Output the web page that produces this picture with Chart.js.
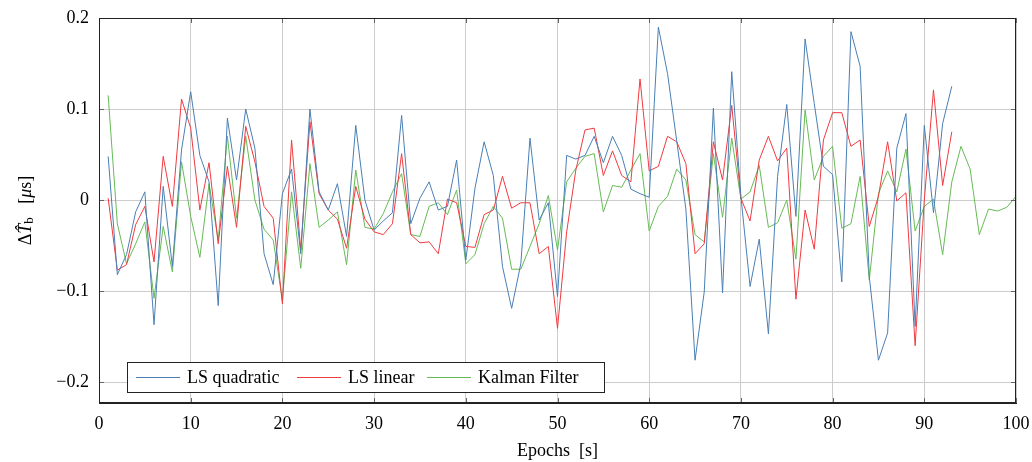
<!DOCTYPE html>
<html>
<head>
<meta charset="utf-8">
<script src="https://cdn.jsdelivr.net/npm/chart.js@4/dist/chart.umd.min.js"></script>
<style>
  html, body { margin: 0; padding: 0; background: #fff; }
  #wrap { width: 1032px; height: 462px; }
</style>
</head>
<body>
<div id="wrap"><canvas id="chart"></canvas></div>
<script>
// epochs 1..100 (x axis categories)
const epochs = Array.from({ length: 100 }, (_, i) => i + 1);

const yTicks = [-0.2, -0.1, 0, 0.1, 0.2];

const seriesNames = ['LS quadratic', 'LS linear', 'Kalman Filter'];
const seriesColors = ['#4a7fb5', '#f03a40', '#66bb55'];

// LS quadratic, epochs 1..93
const lsQuadratic = [
  0.048, -0.082, -0.060, -0.013, 0.009, -0.137, 0.015, -0.073, 0.055, 0.119,
  0.049, 0.020, -0.116, 0.090, 0.022, 0.100, 0.057, -0.059, -0.093, 0.007,
  0.034, -0.059, 0.100, 0.009, -0.011, 0.018, -0.040, 0.082, 0.000, -0.033,
  -0.023, -0.014, 0.093, -0.026, 0.002, 0.020, -0.011, -0.007, 0.044, -0.066,
  0.013, 0.064, 0.027, -0.073, -0.119, -0.070, 0.068, -0.022, -0.003, -0.106,
  0.049, 0.045, 0.049, 0.070, 0.041, 0.070, 0.049, 0.012, 0.007, 0.003,
  0.190, 0.139, 0.065, -0.010, -0.176, -0.101, 0.101, -0.102, 0.141, 0.004,
  -0.095, -0.043, -0.147, 0.026, 0.105, -0.018, 0.177, 0.106, 0.037, 0.028,
  -0.090, 0.185, 0.147, -0.084, -0.176, -0.146, 0.057, 0.095, -0.139, 0.082,
  -0.014, 0.084, 0.125
];

// LS linear, epochs 1..93
const lsLinear = [
  0.002, -0.077, -0.071, -0.027, -0.007, -0.068, 0.048, -0.007, 0.111, 0.079,
  -0.011, 0.041, -0.048, 0.037, -0.030, 0.081, 0.042, -0.007, -0.020, -0.114,
  0.066, -0.055, 0.086, 0.007, -0.011, -0.021, -0.053, 0.015, -0.021, -0.035,
  -0.038, -0.026, 0.051, -0.038, -0.047, -0.046, -0.059, 0.001, -0.003, -0.051,
  -0.052, -0.016, -0.011, 0.026, -0.009, -0.003, -0.003, -0.059, -0.051, -0.141,
  -0.035, 0.033, 0.077, 0.079, 0.027, 0.054, 0.027, 0.020, 0.133, 0.032,
  0.037, 0.070, 0.064, 0.040, -0.059, -0.048, 0.064, 0.022, 0.104, 0.002,
  -0.023, 0.044, 0.070, 0.043, 0.057, -0.109, -0.011, -0.054, 0.066, 0.096,
  0.096, 0.059, 0.066, -0.029, 0.004, 0.064, -0.001, 0.008, -0.160, 0.000,
  0.121, 0.016, 0.075
];

// Kalman Filter, epochs 1..100
const kalman = [
  0.115, -0.026, -0.070, -0.048, -0.024, -0.108, -0.029, -0.079, 0.042, -0.018,
  -0.063, 0.018, -0.044, 0.070, -0.020, 0.070, 0.000, -0.032, -0.044, -0.110,
  0.009, -0.075, 0.040, -0.030, -0.022, -0.013, -0.071, 0.033, -0.030, -0.032,
  -0.015, 0.009, 0.029, -0.038, -0.040, -0.007, -0.003, -0.016, 0.011, -0.070,
  -0.060, -0.026, -0.007, -0.020, -0.076, -0.076, -0.051, -0.026, 0.005, -0.055,
  0.020, 0.035, 0.048, 0.051, -0.013, 0.016, 0.014, 0.033, 0.051, -0.034,
  -0.007, 0.004, 0.034, 0.022, -0.038, -0.046, 0.051, -0.019, 0.068, 0.001,
  0.009, 0.038, -0.030, -0.025, 0.000, -0.065, 0.099, 0.022, 0.048, 0.059,
  -0.031, -0.026, 0.026, -0.088, 0.007, 0.032, 0.009, 0.056, -0.034, -0.007,
  0.001, -0.060, 0.020, 0.059, 0.034, -0.038, -0.010, -0.012, -0.008, 0.004
];

const FONT = '"Liberation Serif", "DejaVu Serif", serif';

function toPoints(values) {
  return values.map((v, i) => ({ x: epochs[i], y: v }));
}

function fmtTick(v) {
  if (Math.abs(v) < 1e-9) return '0';
  const s = Math.abs(v).toFixed(1);
  return v < 0 ? '\u2212' + s : s;
}

// frame around the plot and small inward tick marks
const frame = {
  id: 'frame',
  afterDatasetsDraw(chart) {
    const { ctx, chartArea: a, scales } = chart;
    ctx.save();
    ctx.strokeStyle = '#666';
    ctx.lineWidth = 1;
    ctx.beginPath();
    scales.x.ticks.forEach(t => {
      const px = Math.round(scales.x.getPixelForValue(t.value)) + 0.5;
      ctx.moveTo(px, a.bottom); ctx.lineTo(px, a.bottom - 5);
      ctx.moveTo(px, a.top); ctx.lineTo(px, a.top + 5);
    });
    yTicks.forEach(v => {
      const py = Math.round(scales.y.getPixelForValue(v)) + 0.5;
      ctx.moveTo(a.left, py); ctx.lineTo(a.left + 5, py);
      ctx.moveTo(a.right, py); ctx.lineTo(a.right - 5, py);
    });
    ctx.stroke();
    ctx.strokeStyle = '#222';
    ctx.strokeRect(a.left + 0.5, a.top + 0.5, a.right - a.left - 1, a.bottom - a.top - 1);
    ctx.restore();
  }
};

// y axis title with subscript
const yTitle = {
  id: 'yTitle',
  afterDraw(chart) {
    const { ctx, chartArea: a } = chart;
    const parts = [
      { t: '\u0394', f: '18px ' + FONT, dy: 0 },
      { t: 'T\u0302', f: 'italic 18px ' + FONT, dy: 0 },
      { t: 'b', f: '13px ' + FONT, dy: 4 },
      { t: '   [', f: '18px ' + FONT, dy: 0 },
      { t: '\u03bc', f: 'italic 18px ' + FONT, dy: 0 },
      { t: 's]', f: '18px ' + FONT, dy: 0 }
    ];
    ctx.save();
    let w = 0;
    parts.forEach(p => { ctx.font = p.f; p.w = ctx.measureText(p.t).width; w += p.w; });
    ctx.translate(26, (a.top + a.bottom) / 2);
    ctx.rotate(-Math.PI / 2);
    ctx.fillStyle = '#000';
    ctx.textBaseline = 'middle';
    let x = -w / 2;
    parts.forEach(p => {
      ctx.font = p.f;
      ctx.fillText(p.t, x, p.dy);
      x += p.w;
    });
    ctx.restore();
  }
};

// legend box inside the plot, lower left
const boxLegend = {
  id: 'boxLegend',
  afterDraw(chart) {
    const ctx = chart.ctx;
    const sampleX = [136, 297, 427];
    const textX = [187, 348, 478];
    ctx.save();
    ctx.fillStyle = '#fff';
    ctx.fillRect(127, 362, 477, 30);
    ctx.strokeStyle = '#222';
    ctx.lineWidth = 1;
    ctx.strokeRect(127.5, 362.5, 477, 30);
    ctx.font = '18px ' + FONT;
    ctx.textBaseline = 'middle';
    seriesNames.forEach((name, i) => {
      ctx.beginPath();
      ctx.strokeStyle = seriesColors[i];
      ctx.moveTo(sampleX[i], 377.5);
      ctx.lineTo(sampleX[i] + 44, 377.5);
      ctx.stroke();
      ctx.fillStyle = '#000';
      ctx.fillText(name, textX[i], 378);
    });
    ctx.restore();
  }
};

function makeSet(i, values) {
  return {
    label: seriesNames[i],
    data: toPoints(values),
    borderColor: seriesColors[i],
    borderWidth: 1,
    pointRadius: 0,
    fill: false
  };
}

new Chart(document.getElementById('chart'), {
  type: 'line',
  data: {
    datasets: [makeSet(0, lsQuadratic), makeSet(1, lsLinear), makeSet(2, kalman)]
  },
  options: {
    responsive: true,
    maintainAspectRatio: false,
    animation: false,
    devicePixelRatio: 1,
    layout: { padding: { left: 0, top: 18, right: 16, bottom: 0 } },
    plugins: {
      legend: { display: false },
      tooltip: { enabled: false }
    },
    scales: {
      x: {
        type: 'linear',
        min: 0,
        max: 100,
        ticks: { stepSize: 10, color: '#000', font: { family: FONT, size: 18 }, padding: 10, maxRotation: 0 },
        grid: { color: '#cccccc', drawTicks: false },
        border: { color: '#222' },
        title: { display: true, text: 'Epochs  [s]', color: '#000', font: { family: FONT, size: 18 }, padding: 0 },
        afterFit: s => { s.height = 59; s.paddingLeft = 0; s.paddingRight = 0; }
      },
      y: {
        type: 'linear',
        min: -0.223,
        max: 0.2,
        afterBuildTicks: s => { s.ticks = yTicks.map(v => ({ value: v })); },
        ticks: { color: '#000', font: { family: FONT, size: 18 }, padding: 10, callback: v => fmtTick(v) },
        grid: { color: '#cccccc', drawTicks: false },
        border: { color: '#222' },
        afterFit: s => { s.width = 99; s.paddingTop = 0; s.paddingBottom = 0; }
      }
    }
  },
  plugins: [frame, yTitle, boxLegend]
});
</script>
</body>
</html>
